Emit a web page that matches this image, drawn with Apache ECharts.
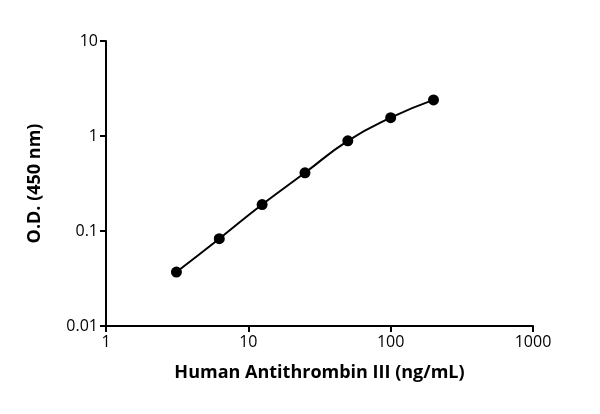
<!DOCTYPE html>
<html>
<head>
<meta charset="utf-8">
<script src="https://cdn.jsdelivr.net/npm/echarts@6/dist/echarts.min.js"></script>
<style>html,body{margin:0;padding:0;background:#fff}#chart{width:600px;height:414px}</style>
</head>
<body>
<div id="chart"></div>
<script>
var concentrations = [3.125, 6.25, 12.5, 25, 50, 100, 200];
var odValues = [0.037, 0.083, 0.19, 0.41, 0.89, 1.56, 2.4];

var chart = echarts.init(document.getElementById("chart"));
var font = "Open Sans";
var axisStyle = {
    axisLine: { show: true, lineStyle: { color: '#000', width: 2 } },
    axisTick: { show: true, length: 6, lineStyle: { color: '#000', width: 2 } },
    splitLine: { show: false },
    axisLabel: {
        color: '#000', fontSize: 16, fontFamily: font,
        formatter: function (v) { return String(v); }
    }
};
var nameStyle = { color: '#000', fontSize: 18, fontWeight: 'bold', fontFamily: font };
var option = {
    animation: false,
    grid: { left: 106, right: 67, top: 41, bottom: 88 },
    xAxis: Object.assign({
        type: 'log', logBase: 10, min: 1, max: 1000,
        name: 'Human Antithrombin III (ng/mL)', nameLocation: 'middle', nameGap: 38,
        nameTextStyle: nameStyle
    }, axisStyle),
    yAxis: Object.assign({
        type: 'log', logBase: 10, min: 0.01, max: 10,
        name: 'O.D. (450 nm)', nameLocation: 'middle', nameGap: 62,
        nameTextStyle: nameStyle
    }, axisStyle),
    series: [{
        type: 'line',
        smooth: true,
        data: concentrations.map(function (c, i) { return [c, odValues[i]]; }),
        symbol: 'circle', symbolSize: 11,
        itemStyle: { color: '#000' },
        lineStyle: { color: '#000', width: 2 }
    }]
};
chart.setOption(option);
</script>
</body>
</html>
